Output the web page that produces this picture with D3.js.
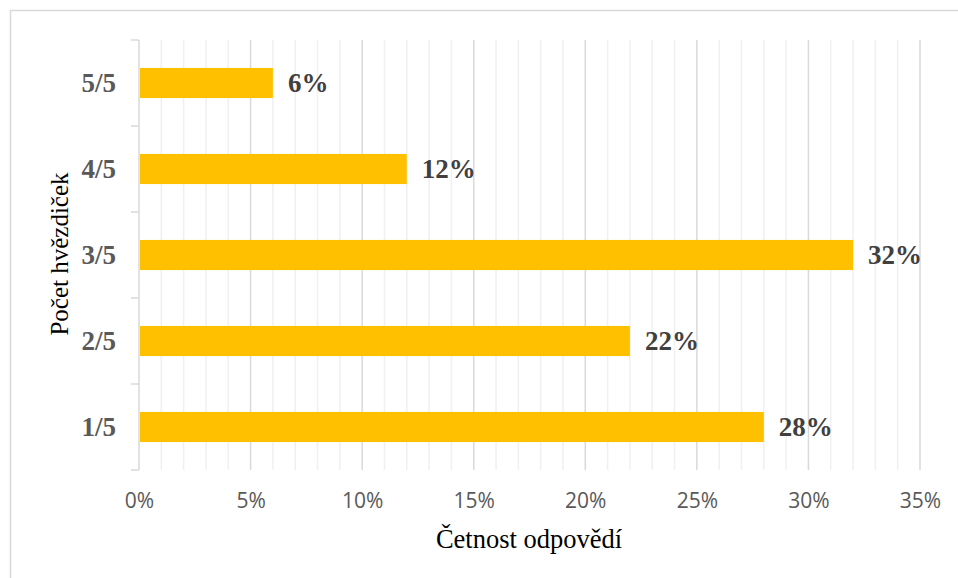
<!DOCTYPE html>
<html>
<head>
<meta charset="utf-8">
<script src="https://cdn.jsdelivr.net/npm/d3@7"></script>
<style>
  html, body { margin: 0; padding: 0; background: #fff; }
</style>
</head>
<body>
<svg id="chart" width="958" height="578"></svg>
<script>
// data
var categories = ["1/5", "2/5", "3/5", "4/5", "5/5"];
var values = [0.28, 0.22, 0.32, 0.12, 0.06];
var xTicks = [0, 0.05, 0.10, 0.15, 0.20, 0.25, 0.30, 0.35];
var xTitle = "Četnost odpovědí";
var yTitle = "Počet hvězdiček";

var svg = d3.select("#chart");
var margin = {top: 40, right: 38, bottom: 108, left: 139};
var width = 958 - margin.left - margin.right;   // 0%..35% spans 139..920
var height = 578 - margin.top - margin.bottom;  // 40..470

// outer chart border (runs off the right and bottom edges)
svg.append("rect")
    .attr("x", 10.5).attr("y", 10.5)
    .attr("width", 960).attr("height", 580)
    .attr("fill", "none")
    .attr("stroke", "#d9d9d9")
    .attr("stroke-width", 1.5);

var g = svg.append("g")
    .attr("transform", "translate(" + margin.left + "," + margin.top + ")");

var x = d3.scaleLinear().domain([0, 0.35]).range([0, width]);
var y = d3.scaleBand()
    .domain(categories.slice().reverse())
    .range([0, height])
    .paddingInner(0.65).paddingOuter(0.325);

// minor gridlines every 1 %
g.selectAll(".minor")
    .data(d3.range(1, 36).filter(function(d) { return d % 5 !== 0; }))
  .enter().append("line")
    .attr("class", "minor")
    .attr("x1", function(d) { return x(d / 100); })
    .attr("x2", function(d) { return x(d / 100); })
    .attr("y1", 0).attr("y2", height)
    .attr("stroke", "#f0f0f0")
    .attr("stroke-width", 1.5);

// major gridlines every 5 %
g.selectAll(".major")
    .data(xTicks.slice(1))
  .enter().append("line")
    .attr("class", "major")
    .attr("x1", function(d) { return x(d); })
    .attr("x2", function(d) { return x(d); })
    .attr("y1", 0).attr("y2", height)
    .attr("stroke", "#d9d9d9")
    .attr("stroke-width", 1.5);

// x axis labels
var xAxis = g.append("g")
    .attr("transform", "translate(0," + height + ")")
    .call(d3.axisBottom(x).tickValues(xTicks).tickFormat(d3.format(".0%")).tickSize(0).tickPadding(23));
xAxis.select(".domain").remove();
xAxis.selectAll("text")
    .attr("fill", "#595959")
    .style("font-family", "'Open Sans', 'Liberation Sans', sans-serif")
    .style("font-size", "21px");

// y axis with boundary ticks
var step = y.step();
var yAxis = g.append("g");
yAxis.append("line")
    .attr("x1", 0).attr("x2", 0).attr("y1", 0).attr("y2", height)
    .attr("stroke", "#d9d9d9").attr("stroke-width", 1.5);
yAxis.selectAll(".bt")
    .data(d3.range(categories.length + 1))
  .enter().append("line")
    .attr("class", "bt")
    .attr("x1", -8).attr("x2", 0)
    .attr("y1", function(i) { return i * step; })
    .attr("y2", function(i) { return i * step; })
    .attr("stroke", "#d9d9d9").attr("stroke-width", 1.5);
yAxis.selectAll(".cat")
    .data(categories)
  .enter().append("text")
    .attr("class", "cat")
    .attr("x", -23)
    .attr("y", function(d) { return y(d) + y.bandwidth() / 2; })
    .attr("dy", "0.35em")
    .attr("text-anchor", "end")
    .attr("fill", "#595959")
    .style("font-family", "'Liberation Serif', 'Times New Roman', serif")
    .style("font-weight", "bold")
    .style("font-size", "27px")
    .text(function(d) { return d; });

// bars
var data = categories.map(function(c, i) { return {cat: c, v: values[i]}; });
g.selectAll(".bar")
    .data(data)
  .enter().append("rect")
    .attr("class", "bar")
    .attr("x", x(0) + 1)
    .attr("y", function(d) { return y(d.cat); })
    .attr("width", function(d) { return x(d.v) - x(0) - 1; })
    .attr("height", y.bandwidth())
    .attr("fill", "#ffc000");

// value labels
g.selectAll(".val")
    .data(data)
  .enter().append("text")
    .attr("class", "val")
    .attr("x", function(d) { return x(d.v) + 15; })
    .attr("y", function(d) { return y(d.cat) + y.bandwidth() / 2; })
    .attr("dy", "0.35em")
    .attr("fill", "#404040")
    .style("font-family", "'Liberation Serif', 'Times New Roman', serif")
    .style("font-weight", "bold")
    .style("font-size", "27px")
    .text(function(d) { return d3.format(".0%")(d.v); });

// axis titles
svg.append("text")
    .attr("x", 529).attr("y", 548)
    .attr("text-anchor", "middle")
    .attr("fill", "#000")
    .style("font-family", "'Liberation Serif', 'Times New Roman', serif")
    .style("font-size", "26.5px")
    .text(xTitle);

svg.append("text")
    .attr("transform", "translate(68,254) rotate(-90)")
    .attr("text-anchor", "middle")
    .attr("fill", "#000")
    .style("font-family", "'Liberation Serif', 'Times New Roman', serif")
    .style("font-size", "25px")
    .text(yTitle);
</script>
</body>
</html>
